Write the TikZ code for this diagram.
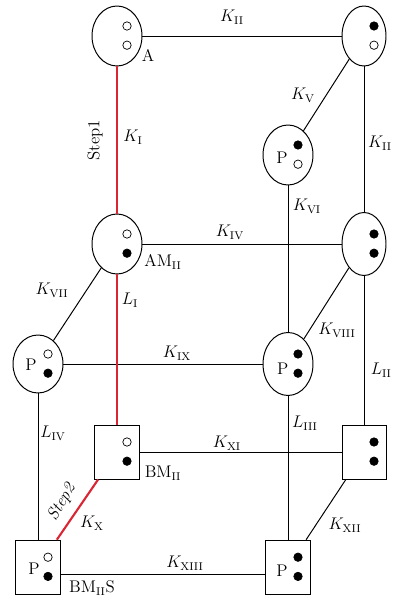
\documentclass[tikz,border=0pt]{standalone}
\usepackage{amsmath}
\usepackage{tikz}
\usetikzlibrary{shapes.geometric}

\definecolor{stepred}{RGB}{218,37,51}
% two spin dots inside a state: #1 node, #2 upper fill, #3 lower fill
\newcommand{\spins}[3]{%
  \draw[line width=0.5pt,fill=#2] ([shift={(0.25,0.25)}]#1.center) circle (0.105);
  \draw[line width=0.5pt,fill=#3] ([shift={(0.25,-0.23)}]#1.center) circle (0.105);}

\begin{document}
\begin{tikzpicture}[line width=0.7pt, font=\large,
    site/.style={draw, ellipse, minimum width=1.25cm, minimum height=1.5cm, inner sep=0pt},
    thinsite/.style={site, minimum width=1.1cm},
    cell/.style={draw, minimum width=1.125cm, minimum height=1.35cm, inner sep=0pt},
    redpath/.style={draw=stepred, line width=1.5pt}]
    \useasboundingbox (0,0) rectangle (9.825,15);

    % states
    \node[site] (a) at (2.925,14.1) {};
    \node[thinsite] (tr) at (9.1,14.1) {};
    \node[site] (p1) at (7.2,11.125) {};
    \node[site] (am) at (2.925,8.9) {};
    \node[thinsite, minimum height=1.575cm] (mr) at (9.1,8.9) {};
    \node[site, minimum height=1.45cm] (pl) at (0.95,5.9) {};
    \node[site, minimum height=1.575cm] (pm) at (7.2,5.9) {};
    \node[cell] (bm) at (2.925,3.7) {};
    \node[cell, minimum width=1.1cm] (rb) at (9.1,3.7) {};
    \node[cell] (bms) at (0.95,0.82) {};
    \node[cell] (p3) at (7.2,0.82) {};

    \spins{a}{white}{white}
    \spins{tr}{black}{white}
    \spins{p1}{black}{white}
    \spins{am}{white}{black}
    \spins{mr}{black}{black}
    \spins{pl}{white}{black}
    \spins{pm}{black}{black}
    \spins{bm}{white}{black}
    \spins{rb}{black}{black}
    \spins{bms}{white}{black}
    \spins{p3}{black}{black}

    \node (p1p) at ([shift={(-0.15,-0.075)}]p1.center) {P};
    \node (plp) at ([shift={(-0.175,-0.03)}]pl.center) {P};
    \node (pmp) at ([shift={(-0.13,-0.12)}]pm.center) {P};
    \node (bmsp) at ([shift={(-0.1,-0.05)}]bms.center) {P};
    \node (p3p) at ([shift={(-0.15,-0.1)}]p3.center) {P};

    % transitions
    \draw (a) -- (tr);
    \draw (tr) -- (p1);
    \draw (tr) -- (mr);
    \draw (p1) -- (pm);
    \draw (am) -- (mr);
    \draw (am) -- (pl);
    \draw (mr) -- (pm);
    \draw (mr) -- (rb);
    \draw (pl) -- (pm);
    \draw (pl) -- (bms);
    \draw (pm) -- (p3);
    \draw (bm) -- (rb);
    \draw (rb) -- (p3);
    \draw ([yshift=-0.17cm]bms.east) -- ([yshift=-0.17cm]p3.west);
    \draw[redpath] (a) -- (am);
    \draw[redpath] (am) -- (bm);
    \draw[redpath] (bm) -- (bms);

    % labels
    \node (la) at (3.7,13.625) {A};
    \node (lam) at (4.075,8.45) {AM$_{\mathrm{II}}$};
    \node (lbm) at (4.075,3.175) {BM$_{\mathrm{II}}$};
    \node (lbms) at (2.3,0.3) {BM$_{\mathrm{II}}$S};
    \node (k2a) at (5.8,14.575) {$K_{\mathrm{II}}$};
    \node (k5) at (7.575,12.625) {$K_{\mathrm{V}}$};
    \node (k2b) at (9.5,11.425) {$K_{\mathrm{II}}$};
    \node (k1) at (3.325,11.575) {$K_{\mathrm{I}}$};
    \node[rotate=90] (s1) at (2.375,11.5) {Step1};
    \node (k6) at (7.675,9.85) {$K_{\mathrm{VI}}$};
    \node (k4) at (5.75,9.2) {$K_{\mathrm{IV}}$};
    \node (k7) at (1.3,7.75) {$K_{\mathrm{VII}}$};
    \node (l1) at (3.25,7.5) {$L_{\mathrm{I}}$};
    \node (k8) at (8.425,6.75) {$K_{\mathrm{VIII}}$};
    \node (k9) at (4.425,6.175) {$K_{\mathrm{IX}}$};
    \node (l2) at (9.53,5.75) {$L_{\mathrm{II}}$};
    \node (l4) at (1.325,4.175) {$L_{\mathrm{IV}}$};
    \node (l3) at (7.625,4.425) {$L_{\mathrm{III}}$};
    \node (k11) at (5.675,3.925) {$K_{\mathrm{XI}}$};
    \node[rotate=60, inner sep=1pt] (s2) at (1.55,2.45) {\textit{Step2}};
    \node (k10) at (2.3,1.925) {$K_{\mathrm{X}}$};
    \node (k12) at (8.625,1.875) {$K_{\mathrm{XII}}$};
    \node (k13) at (4.625,0.925) {$K_{\mathrm{XIII}}$};
\end{tikzpicture}
\end{document}
